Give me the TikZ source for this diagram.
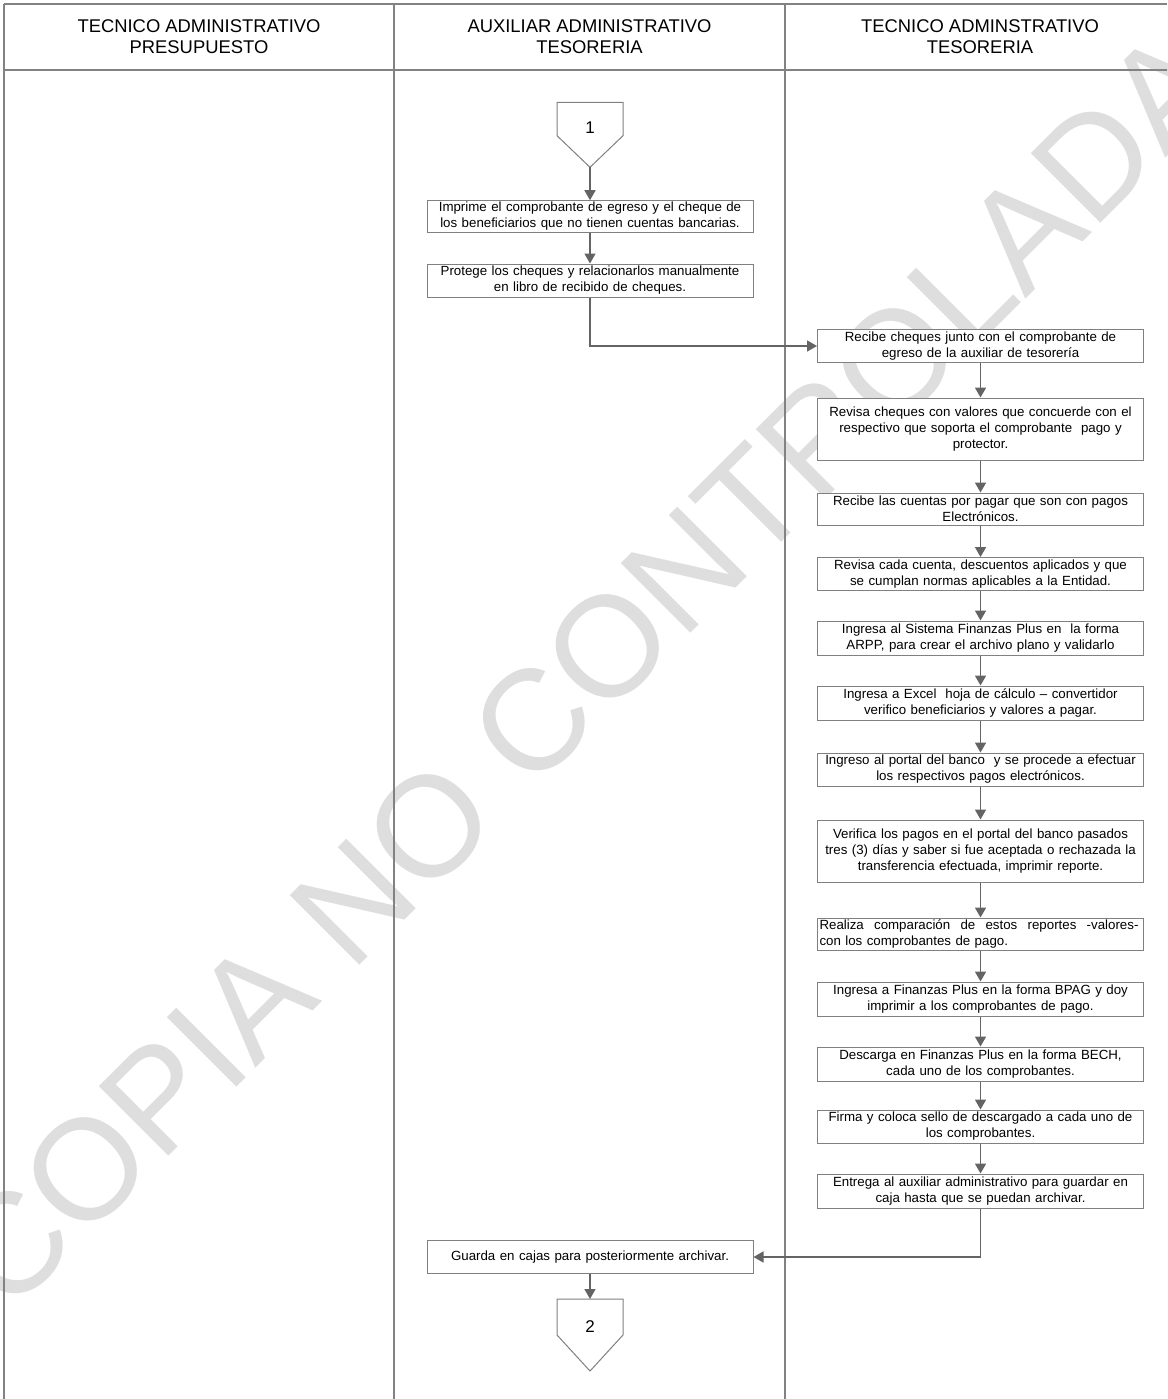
\documentclass[tikz,border=0pt]{standalone}
\usepackage{fontspec}
\setmainfont{Liberation Sans}
\usetikzlibrary{arrows.meta}
\definecolor{wmgrey}{RGB}{222,222,222}
\definecolor{lanegrey}{RGB}{130,130,130}
\definecolor{boxgrey}{RGB}{128,128,128}
\definecolor{arrowgrey}{RGB}{100,100,100}
\newcommand{\boxfont}{\fontsize{13.3}{16}\selectfont}
\newcommand{\headfont}{\fontsize{18.4}{21}\selectfont}
\begin{document}
\begin{tikzpicture}[x=1pt,y=-1pt,
  lane/.style={draw=lanegrey,line width=1.2pt},
  procbox/.style={draw=boxgrey,line width=1pt,fill=white,text width=322pt,inner xsep=2pt,inner ysep=1pt,align=center,font=\boxfont,minimum width=326pt},
  head/.style={align=center,font=\headfont,inner sep=0pt},
  flow/.style={draw=arrowgrey,line width=1.6pt,-{Triangle[length=10pt,width=11pt]}},
  offpage/.style={draw=boxgrey,line width=1pt,fill=white},
  num/.style={font=\fontsize{17}{17}\selectfont,inner sep=0pt}]

\useasboundingbox (0,0) rectangle (1167,1399);
\fill[white] (0,0) rectangle (1167,1399);

% watermark
\node[rotate=45,anchor=base,text=wmgrey,font=\fontsize{143}{143}\selectfont,inner sep=0pt] (wm) at (620.8,703.6) {COPIA NO CONTROLADA};

% swimlane table
\draw[lane] (4,4) -- (1167,4);
\draw[lane] (4,70) -- (1167,70);
\draw[lane] (4,4) -- (4,1399);
\draw[lane] (394,4) -- (394,1399);
\draw[lane] (785,4) -- (785,1399);

\node[head] (h1) at (199,37) {TECNICO ADMINISTRATIVO\\PRESUPUESTO};
\node[head] (h2) at (589.5,37) {AUXILIAR ADMINISTRATIVO\\TESORERIA};
\node[head] (h3) at (980,37) {TECNICO ADMINSTRATIVO\\TESORERIA};

% off-page connector 1
\draw[offpage] (557,102.3) -- (623,102.3) -- (623,135.7) -- (590,167.3) -- (557,135.7) -- cycle;
\node[num] (c1) at (590,127.5) {1};
\coordinate (c1tip) at (590,167.3);

% middle lane boxes
\node[procbox,minimum height=31.5pt] (b1) at (590,216.5) {Imprime el comprobante de egreso y el cheque de\\los beneficiarios que no tienen cuentas bancarias.};
\node[procbox,minimum height=33pt] (b2) at (590,280.5) {Protege los cheques y relacionarlos manualmente\\en libro de recibido de cheques.};

% right lane boxes
\node[procbox,minimum height=33pt] (b3) at (980.5,346) {Recibe cheques junto con el comprobante de\\egreso de la auxiliar de tesorería};
\node[procbox,minimum height=62pt] (b4) at (980.5,429) {Revisa cheques con valores que concuerde con el\\respectivo que soporta el comprobante~ pago y\\protector.};
\node[procbox,minimum height=32pt] (b5) at (980.5,509) {Recibe las cuentas por pagar que son con pagos\\Electrónicos.};
\node[procbox,minimum height=33pt] (b6) at (980.5,574) {Revisa cada cuenta, descuentos aplicados y que\\se cumplan normas aplicables a la Entidad.};
\node[procbox,minimum height=34pt] (b7) at (980.5,638) {Ingresa al Sistema Finanzas Plus en~ la forma\\ARPP, para crear el archivo plano y validarlo};
\node[procbox,minimum height=34pt] (b8) at (980.5,703) {Ingresa a Excel~ hoja de cálculo – convertidor\\verifico beneficiarios y valores a pagar.};
\node[procbox,minimum height=33pt] (b9) at (980.5,769.5) {Ingreso al portal del banco~ y se procede a efectuar\\los respectivos pagos electrónicos.};
\node[procbox,minimum height=62pt] (b10) at (980.5,851) {Verifica los pagos en el portal del banco pasados\\tres (3) días y saber si fue aceptada o rechazada la\\transferencia efectuada, imprimir reporte.};
\node[procbox,minimum height=32pt,align=left] (b11) at (980.5,934) {\hbox to 319pt{Realiza\hfill comparación\hfill de\hfill estos\hfill reportes\hfill -valores-}\\con los comprobantes de pago.};
\node[procbox,minimum height=34pt] (b12) at (980.5,999) {Ingresa a Finanzas Plus en la forma BPAG y doy\\imprimir a los comprobantes de pago.};
\node[procbox,minimum height=34pt] (b13) at (980.5,1064) {Descarga en Finanzas Plus en la forma BECH,\\cada uno de los comprobantes.};
\node[procbox,minimum height=33pt] (b14) at (980.5,1126.5) {Firma y coloca sello de descargado a cada uno de\\los comprobantes.};
\node[procbox,minimum height=34pt] (b15) at (980.5,1191) {Entrega al auxiliar administrativo para guardar en\\caja hasta que se puedan archivar.};

% final box
\node[procbox,minimum height=33pt] (g) at (590,1257) {Guarda en cajas para posteriormente archivar.};

% off-page connector 2
\draw[offpage] (557,1299) -- (623,1299) -- (623,1335) -- (590,1371) -- (557,1335) -- cycle;
\node[num] (c2) at (590,1327) {2};
\coordinate (c2top) at (590,1299);

% flows
\draw[flow] (c1tip) -- (b1.north);
\draw[flow] (b1.south) -- (b2.north);
\draw[flow] (b2.south) |- (b3.west);
\draw[flow] (b3.south) -- (b4.north);
\draw[flow] (b4.south) -- (b5.north);
\draw[flow] (b5.south) -- (b6.north);
\draw[flow] (b6.south) -- (b7.north);
\draw[flow] (b7.south) -- (b8.north);
\draw[flow] (b8.south) -- (b9.north);
\draw[flow] (b9.south) -- (b10.north);
\draw[flow] (b10.south) -- (b11.north);
\draw[flow] (b11.south) -- (b12.north);
\draw[flow] (b12.south) -- (b13.north);
\draw[flow] (b13.south) -- (b14.north);
\draw[flow] (b14.south) -- (b15.north);
\draw[flow] (b15.south) |- (g.east);
\draw[flow] (g.south) -- (c2top);
\end{tikzpicture}
\end{document}
